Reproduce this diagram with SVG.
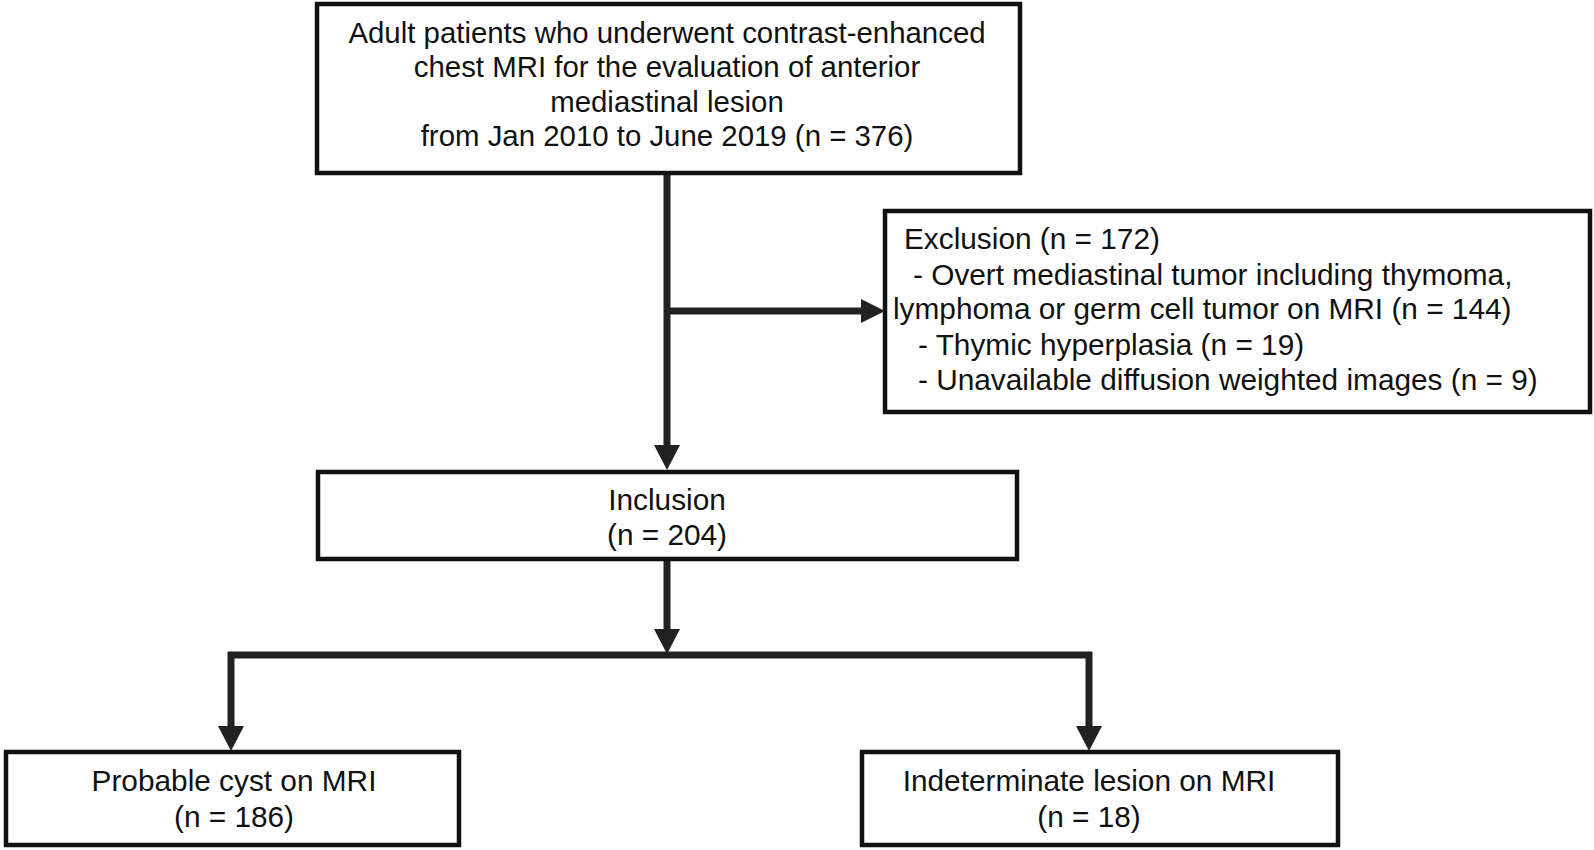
<svg xmlns="http://www.w3.org/2000/svg" width="1594" height="850" viewBox="0 0 1594 850">
<style>
.box{fill:#fff;stroke:#111;stroke-width:4.5}
.t{font-family:"Liberation Sans",Arial,sans-serif;font-size:29.8px;fill:#111}
.top{font-size:29.4px}
.c{text-anchor:middle}
.ln{fill:none;stroke:#222;stroke-width:7}
.ah{fill:#222}
</style>
<rect width="1594" height="850" fill="#fff"/>
<g id="connectors">
<path class="ln" d="M667,173 V447"/>
<path class="ln" d="M667,311 H864"/>
<polygon class="ah" points="861,299 885,311 861,323"/>
<polygon class="ah" points="654,445 680,445 667,470"/>
<path class="ln" d="M667,559 V632"/>
<polygon class="ah" points="654,629 680,629 667,654"/>
<path class="ln" d="M231,728 V655 H1089 V728"/>
<polygon class="ah" points="218,726 244,726 231,751"/>
<polygon class="ah" points="1076,726 1102,726 1089,751"/>
</g>
<g id="n-start">
<rect class="box" x="317" y="4" width="703" height="169"/>
<text class="t top c" x="667" y="43">Adult patients who underwent contrast-enhanced</text>
<text class="t top c" x="667" y="77">chest MRI for the evaluation of anterior</text>
<text class="t top c" x="667" y="112">mediastinal lesion</text>
<text class="t top c" x="667" y="146">from Jan 2010 to June 2019 (n = 376)</text>
</g>
<g id="n-exclusion">
<rect class="box" x="885" y="211" width="705" height="201"/>
<text class="t" x="904" y="249">Exclusion (n = 172)</text>
<text class="t" x="913" y="285">- Overt mediastinal tumor including thymoma,</text>
<text class="t" x="893" y="319">lymphoma or germ cell tumor on MRI (n = 144)</text>
<text class="t" x="918" y="355">- Thymic hyperplasia (n = 19)</text>
<text class="t" x="918" y="390">- Unavailable diffusion weighted images (n = 9)</text>
</g>
<g id="n-inclusion">
<rect class="box" x="318" y="472" width="699" height="87"/>
<text class="t c" x="667" y="510">Inclusion</text>
<text class="t c" x="667" y="545">(n = 204)</text>
</g>
<g id="n-cyst">
<rect class="box" x="6" y="752" width="453" height="93"/>
<text class="t c" x="234" y="791">Probable cyst on MRI</text>
<text class="t c" x="234" y="827">(n = 186)</text>
</g>
<g id="n-indeterminate">
<rect class="box" x="862" y="752" width="476" height="93"/>
<text class="t c" x="1089" y="791">Indeterminate lesion on MRI</text>
<text class="t c" x="1089" y="827">(n = 18)</text>
</g>
</svg>
